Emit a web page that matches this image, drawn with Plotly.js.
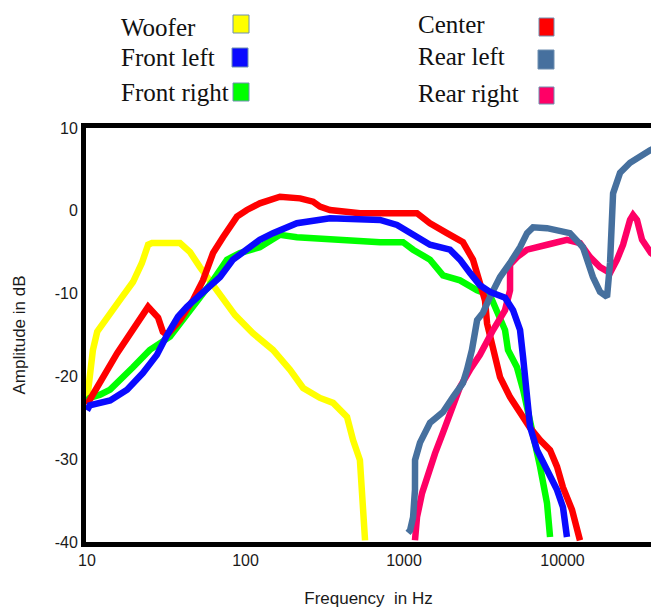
<!DOCTYPE html>
<html>
<head>
<meta charset="utf-8">
<script src="https://cdn.plot.ly/plotly-3.0.1.min.js"></script>
<style>html,body{margin:0;padding:0;background:#fff;}#chart{width:651px;height:608px;}</style>
</head>
<body>
<div id="chart"></div>
<script>
// ---------- data ----------
const seriesNames = ['Woofer', 'Front left', 'Front right', 'Center', 'Rear left', 'Rear right'];

const woofer_f = [10, 10.9, 11.6, 14.0, 16.1, 19.5, 22.2, 24.3, 25.7, 38.6, 44.7, 51.6, 59.7, 71.1, 85.9, 111.5, 149, 191, 231, 295, 357, 437, 477, 527, 543, 568];
const woofer_db = [-22.9, -16.8, -14.6, -12.6, -10.8, -8.6, -6.3, -4.1, -3.9, -3.9, -5.0, -6.8, -8.4, -10.4, -12.6, -14.8, -16.8, -19.2, -21.4, -22.6, -23.2, -24.9, -27.7, -30.1, -34.9, -39.8];

const frontLeft_f = [10, 10.4, 14.0, 17.9, 22.5, 27.6, 32.0, 37.5, 42.7, 53.9, 69.1, 83.4, 102, 123, 149, 183, 211, 341, 706, 904, 1092, 1459, 1950, 2255, 2608, 3013, 3490, 4339, 4875, 5398, 5642, 5976, 6243, 6909, 7985, 9234, 10070, 10670];
const frontLeft_db = [-24.1, -23.5, -22.9, -21.6, -19.6, -17.4, -15.0, -12.8, -11.6, -9.9, -8.0, -5.9, -4.7, -3.5, -2.7, -2.0, -1.5, -0.9, -1.1, -1.7, -2.6, -4.1, -4.7, -5.9, -7.5, -9.0, -9.8, -10.5, -12.0, -14.4, -17.7, -21.6, -26.1, -28.9, -31.3, -33.7, -35.8, -39.4];

const frontRight_f = [10, 10.4, 12.1, 14.0, 19.5, 24.9, 33.4, 40.4, 49.5, 62.4, 76.4, 92.3, 123, 165, 211, 341, 706, 986, 1141, 1459, 1762, 2255, 2893, 3490, 3917, 4339, 4529, 5160, 5642, 6520, 7218, 7985, 8347];
const frontRight_db = [-22.9, -22.6, -22.2, -21.6, -18.9, -16.8, -15.2, -13.2, -11.1, -8.4, -5.9, -5.1, -4.4, -2.9, -3.2, -3.5, -3.8, -3.8, -4.7, -5.9, -7.8, -8.4, -9.6, -10.2, -12.3, -14.4, -16.8, -18.9, -21.6, -26.8, -30.9, -35.3, -39.4];

const center_f = [10, 15.5, 24.3, 28.1, 30.1, 32.0, 38.6, 46.6, 53.9, 62.4, 72.1, 88.3, 102, 123, 165, 221, 267, 295, 341, 527, 1208, 1459, 1866, 2355, 2723, 3013, 3243, 3342, 3647, 4037, 4667, 5398, 6243, 7218, 8347, 9234, 10070, 11480, 12890];
const center_db = [-23.4, -17.2, -11.6, -12.9, -14.6, -15.0, -13.2, -10.8, -8.4, -5.1, -3.2, -0.7, 0.1, 0.9, 1.7, 1.5, 1.1, 0.5, 0.1, -0.3, -0.3, -1.5, -2.7, -3.8, -5.9, -8.4, -10.8, -13.6, -16.8, -20.1, -22.5, -24.4, -26.2, -27.7, -28.9, -30.9, -33.4, -36.1, -39.8];

const rearLeft_f = [1060, 1092, 1141, 1173, 1174, 1262, 1459, 1762, 2037, 2355, 2497, 2684, 2893, 3150, 3490, 4037, 4667, 5398, 5976, 6520, 7985, 11140, 13460, 15560, 17250, 19100, 19950, 20850, 23080, 26680, 35650, 41200];
const rearLeft_db = [-38.9, -38.6, -37.0, -33.7, -30.1, -28.0, -25.6, -24.3, -22.5, -20.8, -19.2, -16.8, -13.2, -12.3, -10.4, -8.0, -6.3, -4.4, -2.7, -2.0, -2.1, -2.7, -4.4, -8.0, -9.8, -10.4, -6.3, 2.1, 4.6, 5.8, 7.3, 7.9];

const rearRight_f = [1173, 1208, 1300, 1417, 1570, 1762, 1950, 2255, 2608, 3013, 3647, 4339, 4667, 4668, 5160, 5976, 7985, 10670, 12890, 14920, 17250, 19950, 22080, 24110, 26680, 27870, 29520, 31750, 36140, 41200];
const rearRight_db = [-39.8, -37.0, -34.1, -31.7, -29.3, -26.8, -24.4, -21.3, -19.2, -17.4, -14.4, -12.0, -9.6, -6.5, -5.6, -4.7, -4.1, -3.5, -3.9, -5.6, -6.8, -7.5, -5.9, -4.1, -1.1, -0.5, -1.1, -3.5, -5.1, -5.9];

const xTickVals = [10, 100, 1000, 10000];
const xTickText = ['10', '100', '1000', '10000'];
const yTickVals = [-40, -30, -20, -10, 0, 10];
const yTickText = ['-40', '-30', '-20', '-10', '0', '10'];

// ---------- styling ----------
const colors = {
  'Woofer': '#FFFF00',
  'Front left': '#0A0AFF',
  'Front right': '#00FF00',
  'Center': '#FF0000',
  'Rear left': '#46709E',
  'Rear right': '#FF0066'
};

const seriesData = {
  'Woofer': [woofer_f, woofer_db],
  'Front left': [frontLeft_f, frontLeft_db],
  'Front right': [frontRight_f, frontRight_db],
  'Center': [center_f, center_db],
  'Rear left': [rearLeft_f, rearLeft_db],
  'Rear right': [rearRight_f, rearRight_db]
};

// draw order (last on top)
const drawOrder = ['Woofer', 'Front right', 'Center', 'Rear right', 'Rear left', 'Front left'];
const traces = drawOrder.map(n => ({
  type: 'scatter', mode: 'lines', name: n,
  x: seriesData[n][0], y: seriesData[n][1],
  line: {color: colors[n], width: 6.5},
  hoverinfo: 'skip', showlegend: false
}));

const W = 651, H = 608;
const M = {l: 86, r: 0, t: 128, b: 66};
const pw = W - M.l - M.r, ph = H - M.t - M.b;
const px = x => (x - M.l) / pw;
const py = y => (H - M.b - y) / ph;

const decadePx = 158.5;
const x0 = 1 - (87 - M.l) / decadePx;
const x1 = x0 + pw / decadePx;

// custom legend (two columns: text then square)
const legendSpec = [
  {name: 'Woofer', tx: 119, ty: 27.5, sx: [233, 249], sy: [15, 33]},
  {name: 'Front left', tx: 119, ty: 57.5, sx: [232, 248], sy: [48, 67]},
  {name: 'Front right', tx: 119, ty: 92, sx: [233, 249], sy: [83, 101]},
  {name: 'Center', tx: 416, ty: 24, sx: [539, 554], sy: [18, 36]},
  {name: 'Rear left', tx: 416, ty: 56.5, sx: [538, 554], sy: [50, 69]},
  {name: 'Rear right', tx: 416, ty: 93.5, sx: [539, 554], sy: [87, 104]}
];
const annotations = legendSpec.map(s => ({
  xref: 'paper', yref: 'paper', x: px(s.tx), y: py(s.ty),
  xanchor: 'left', yanchor: 'middle', showarrow: false,
  text: s.name,
  font: {family: 'Liberation Serif, Times New Roman, serif', size: 25, color: '#111'}
}));
const shapes = legendSpec.map(s => ({
  type: 'rect', xref: 'paper', yref: 'paper',
  x0: px(s.sx[0]), x1: px(s.sx[1]), y0: py(s.sy[1]), y1: py(s.sy[0]),
  fillcolor: colors[s.name], line: {color: '#6f8fb0', width: 1}
}));

const tickFont = {family: 'Liberation Sans, Arial, sans-serif', size: 16, color: '#1a1a1a'};
const titleFont = {family: 'Liberation Sans, Arial, sans-serif', size: 17, color: '#1a1a1a'};

const layout = {
  width: W, height: H,
  margin: M,
  paper_bgcolor: '#fff', plot_bgcolor: '#fff',
  showlegend: false,
  xaxis: {
    type: 'log', range: [x0, x1],
    tickvals: xTickVals, ticktext: xTickText,
    ticks: '', ticklabelstandoff: 0,
    showgrid: false, zeroline: false,
    showline: true, mirror: true, linewidth: 5, linecolor: '#000',
    tickfont: tickFont,
    title: {text: 'Frequency  in Hz', font: titleFont, standoff: 25},
    automargin: false
  },
  yaxis: {
    range: [-40, 10],
    tickvals: yTickVals, ticktext: yTickText,
    ticks: '', ticklabelstandoff: 0,
    showgrid: false, zeroline: false,
    showline: true, mirror: false, linewidth: 5, linecolor: '#000',
    tickfont: tickFont,
    title: {text: 'Amplitude in dB', font: titleFont, standoff: 26},
    automargin: false
  },
  annotations: annotations,
  shapes: shapes
};

Plotly.newPlot('chart', traces, layout, {displayModeBar: false, staticPlot: true});
</script>
</body>
</html>
